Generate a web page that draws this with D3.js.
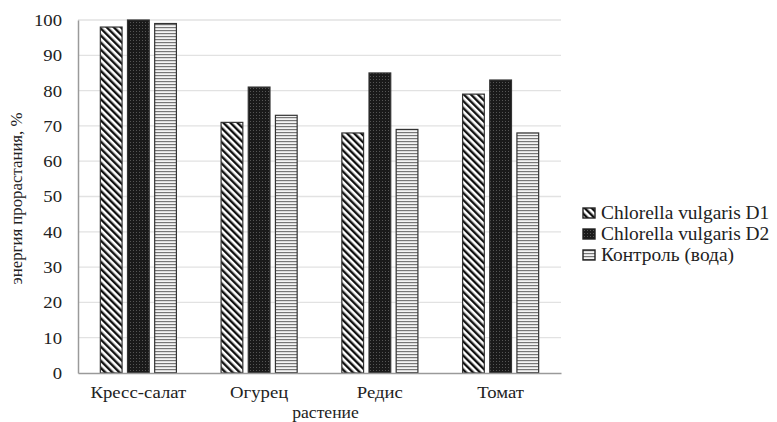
<!DOCTYPE html>
<html><head><meta charset="utf-8">
<script src="https://cdn.jsdelivr.net/npm/d3@7"></script>
<style>body{margin:0;background:#fff} svg text{font-family:"Liberation Serif","Times New Roman",Tinos,serif !important;}</style>
</head><body>
<svg id="chart" width="777" height="422" style="font-family:'Liberation Serif'"></svg>
<script>
const categories = ["Кресс-салат", "Огурец", "Редис", "Томат"];
const seriesNames = ["Chlorella vulgaris D1", "Chlorella vulgaris D2", "Контроль (вода)"];
const d1 = [98, 71, 68, 79];
const d2 = [100, 81, 85, 83];
const control = [99, 73, 69, 68];
const yTicks = [0, 10, 20, 30, 40, 50, 60, 70, 80, 90, 100];

const seriesValues = [d1, d2, control];
const FF = '"Liberation Serif"';
const SX = 1.1;
const svg = d3.select("#chart");
const m = {l: 78, r: 216, t: 20, b: 49};
const W = 777, H = 422;
const x = d3.scaleBand().domain(categories).range([m.l, W - m.r]).paddingInner(0).paddingOuter(0);
const y = d3.scaleLinear().domain([0, 100]).range([H - m.b, m.t]);
const x1 = d3.scaleBand().domain(d3.range(3)).range([x.bandwidth()*0.185, x.bandwidth()*0.815]).paddingInner(0.2);

const defs = svg.append("defs");
const p1 = defs.append("pattern").attr("id","pD1").attr("patternUnits","userSpaceOnUse").attr("width",5).attr("height",5).attr("patternTransform","rotate(-45)");
p1.append("rect").attr("width",5).attr("height",5).attr("fill","#fff");
p1.append("rect").attr("width",2.4).attr("height",5).attr("fill","#111");
const p2 = defs.append("pattern").attr("id","pD2").attr("patternUnits","userSpaceOnUse").attr("width",3).attr("height",3);
p2.append("rect").attr("width",3).attr("height",3).attr("fill","#1a1a1a");
p2.append("rect").attr("x",1).attr("y",1).attr("width",1).attr("height",1).attr("fill","#555");
const p3 = defs.append("pattern").attr("id","pC").attr("patternUnits","userSpaceOnUse").attr("width",4).attr("height",3);
p3.append("rect").attr("width",4).attr("height",3).attr("fill","#f4f4f4");
p3.append("rect").attr("y",0).attr("width",4).attr("height",1.2).attr("fill","#777");
const fills = ["url(#pD1)","url(#pD2)","url(#pC)"];

// gridlines
svg.append("g").selectAll("line").data(yTicks.filter(t=>t>0)).join("line")
  .attr("x1", m.l).attr("x2", W - m.r).attr("y1", d=>y(d)).attr("y2", d=>y(d))
  .attr("stroke","#e2e2e2").attr("stroke-width",1.3);

// y axis
const ya = svg.append("g").attr("transform",`translate(${m.l},0)`)
  .call(d3.axisLeft(y).tickValues(yTicks).tickSize(0).tickPadding(16));
ya.attr("font-family", null);
ya.select(".domain").attr("stroke","#9a9a9a").attr("stroke-width",1.5);
ya.selectAll("text").style("font-family",FF).attr("font-size",17).attr("fill","#222")
  .attr("x", -16 / SX).attr("transform", `scale(${SX},1)`);

// bars
const g = svg.append("g");
categories.forEach((c,i)=>{
  seriesValues.forEach((vals,s)=>{
    g.append("rect")
      .attr("x", x(c) + x1(s)).attr("width", x1.bandwidth())
      .attr("y", y(vals[i])).attr("height", y(0) - y(vals[i]))
      .attr("fill", fills[s]).attr("stroke","#333").attr("stroke-width",1.2);
  });
});

// x axis
const xa = svg.append("g").attr("transform",`translate(0,${y(0)})`)
  .call(d3.axisBottom(x).tickSize(0).tickPadding(13));
xa.attr("font-family", null);
xa.select(".domain").attr("stroke","#9a9a9a").attr("stroke-width",1.5);
xa.selectAll("text").style("font-family",FF).attr("font-size",17).attr("fill","#222")
  .attr("transform", `scale(${SX},1)`);

// axis titles
svg.append("text").attr("transform",`translate(${(m.l + W - m.r)/2 + 6},418) scale(${SX},1)`)
  .attr("text-anchor","middle")
  .style("font-family",FF).attr("font-size",16).attr("fill","#222").text("растение");
svg.append("text").attr("transform",`translate(22,${(m.t + H - m.b)/2 + 2}) rotate(-90) scale(1.05,1)`)
  .attr("text-anchor","middle").style("font-family",FF).attr("font-size",16).attr("fill","#222")
  .text("энергия прорастания, %");

// legend
const lg = svg.append("g").attr("transform","translate(583,208)");
seriesNames.forEach((n,i)=>{
  const row = lg.append("g").attr("transform",`translate(0,${i*21})`);
  row.append("rect").attr("x",0).attr("y",0).attr("width",12).attr("height",10)
    .attr("fill",fills[i]).attr("stroke","#222").attr("stroke-width",1.4);
  row.append("text").attr("transform",`translate(18,11) scale(1.08,1)`)
    .style("font-family",FF).attr("font-size",18).attr("fill","#222").text(n);
});
</script>
</body></html>
